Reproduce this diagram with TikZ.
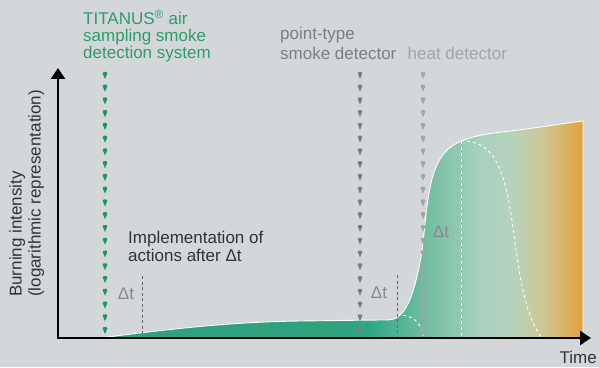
\documentclass[tikz,border=0pt]{standalone}
\usepackage{fontspec}
\setmainfont{Liberation Sans}
\usetikzlibrary{arrows.meta,positioning}

\definecolor{bgray}{HTML}{D3D7DA}
\definecolor{titgreen}{HTML}{2E9C6C}
\definecolor{markgreen}{HTML}{1E965A}
\definecolor{smokegray}{HTML}{7E7E7E}
\definecolor{heatgray}{HTML}{A4A4A4}
\definecolor{dtgray}{HTML}{8A8A8A}
\definecolor{txtdark}{HTML}{333333}
\definecolor{fireA}{HTML}{31A07C}
\definecolor{fireB}{HTML}{2DA884}
\definecolor{fireC}{HTML}{6DBA9E}
\definecolor{fireD}{HTML}{A8D1BF}
\definecolor{fireE}{HTML}{B8D2BB}
\definecolor{fireF}{HTML}{CFC68F}
\definecolor{fireG}{HTML}{E3A13C}

\pgfdeclarehorizontalshading{firefill}{100bp}{color(0bp)=(fireA); color(25bp)=(fireA); color(48.8bp)=(fireA); color(52.9bp)=(fireB); color(58.1bp)=(fireC); color(64.3bp)=(fireD); color(68bp)=(fireE); color(71bp)=(fireF); color(75bp)=(fireG); color(100bp)=(fireG)}

\tikzset{
  txt/.style={inner sep=0pt, font=\fontsize{17}{17}\selectfont},
  axisline/.style={line width=2.5pt, black, line join=miter},
  dtline/.style={black!60, line width=0.9pt, dash pattern=on 3pt off 2.5pt},
  whitedash/.style={white, line width=0.9pt, dash pattern=on 3pt off 3pt}
}
\newcommand{\detcolumn}[2]{%
  \foreach \k in {0,...,20}
    \fill[#2] (#1,{295-\k*12.75}) ++(-1.4,0) -- ++(2.8,0) -- ++(0.9,-1.5) -- ++(-2.3,-5.5) -- ++(-2.3,5.5) -- cycle;
}

\begin{document}
\begin{tikzpicture}[x=1pt,y=1pt]
  \fill[bgray] (0,0) rectangle (599,367);
  \useasboundingbox (0,0) rectangle (599,367);

  \coordinate (origo) at (58,29);
  \coordinate (ytop) at (58,299);
  \coordinate (xend) at (591,29);

  \shade[shading=firefill] (100,29) .. controls (170,38) and (230,45) .. (300,46)
    .. controls (340,46.5) and (370,47) .. (388,47)
    .. controls (403,47) and (413,65) .. (421,110)
    .. controls (426,140) and (426,185) .. (440,208)
    .. controls (452,228) and (475,232) .. (510,236)
    .. controls (540,239.5) and (565,244) .. (583,246) -- (583,29) -- cycle;
  \draw[white, line width=0.9pt] (100,29) .. controls (170,38) and (230,45) .. (300,46)
    .. controls (340,46.5) and (370,47) .. (388,47)
    .. controls (403,47) and (413,65) .. (421,110)
    .. controls (426,140) and (426,185) .. (440,208)
    .. controls (452,228) and (475,232) .. (510,236)
    .. controls (540,239.5) and (565,244) .. (583,246) -- (583,29);

  \draw[whitedash] (397,52) .. controls (412,53) and (422,44) .. (423,31);
  \draw[whitedash] (461,226) -- (461,29);
  \draw[whitedash] (461,226) .. controls (500,227) and (507,185) .. (515,125)
    .. controls (522,70) and (530,45) .. (542,29);

  \draw[dtline] (142,91) -- (142,29);
  \draw[dtline] (397,92) -- (397,29);

  \detcolumn{105}{markgreen}
  \detcolumn{360}{smokegray}
  \detcolumn{423}{heatgray}

  \draw[axisline, {Triangle[width=14pt,length=11pt]}-{Triangle[width=14pt,length=11pt]}] (ytop) -- (origo) -- (xend);

  \node[txt, titgreen, align=left, anchor=base west] (titanus) at (83,308)
    {TITANUS\textsuperscript{®} air\\sampling smoke\\detection system};
  \node[txt, smokegray, align=left, anchor=base west,
    font=\fontsize{17}{20}\selectfont] (smoke) at (280,307) {point-type\\smoke detector};
  \node[txt, heatgray, anchor=base west] (heat) at (407.5,307) {heat detector};
  \node[txt, txtdark, align=left, anchor=base west,
    font=\fontsize{17}{18.5}\selectfont] (actions) at (128,105.3) {Implementation of\\actions after Δt};
  \node[txt, dtgray] (dt1) at (126,73) {Δt};
  \node[txt, dtgray] (dt2) at (379,74) {Δt};
  \node[txt, dtgray] (dt3) at (441,135) {Δt};
  \node[txt, txtdark, align=left, rotate=90, anchor=north west,
    font=\fontsize{17}{19}\selectfont] (ylabel) at (9,70)
    {Burning intensity\\(logarithmic representation)};
  \node[txt, txtdark, anchor=base east] (time) at (597,4) {Time};
\end{tikzpicture}
\end{document}
